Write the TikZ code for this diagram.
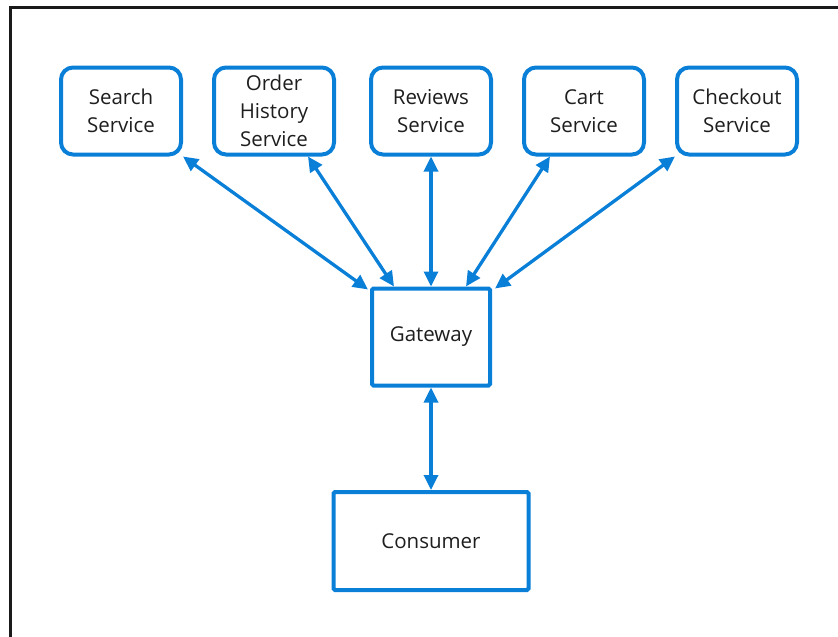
\documentclass[tikz,border=0pt]{standalone}
\usepackage{fontspec}
\setmainfont{Open Sans}
\usetikzlibrary{arrows.meta,calc}
\definecolor{azure}{HTML}{0A7FD8}
\definecolor{ink}{HTML}{1E1E1E}
\definecolor{frame}{HTML}{1A1A1A}
\begin{document}
\begin{tikzpicture}[x=1pt,y=-1pt,
  every node/.style={font=\fontsize{20.5}{28}\selectfont,text=ink,align=center,inner sep=0pt},
  svc/.style={draw=azure,line width=4pt,rounded corners=12pt,minimum width=120pt,minimum height=87pt},
  blk/.style={draw=azure,line width=4pt,rounded corners=1.5pt},
  link/.style={azure,line width=3.3pt,{Triangle[length=15pt,width=14pt]}-{Triangle[length=15pt,width=14pt]}}]
  \useasboundingbox (0,0) rectangle (838,637);
  \draw[frame,line width=3pt] (10,637) -- (10,7) -- (838,7);
  % services
  \node[svc] (search) at (121,111) {Search\\Service};
  \node[svc] (order) at (274,111) {Order\\History\\Service};
  \node[svc] (reviews) at (431,111) {Reviews\\Service};
  \node[svc] (cart) at (584,111) {Cart\\Service};
  \node[svc] (checkout) at (737,111) {Checkout\\Service};
  \node[blk,minimum width=118pt,minimum height=97pt] (gw) at (431,337) {Gateway};
  \node[blk,minimum width=195pt,minimum height=98pt] (consumer) at (431,541) {Consumer};
  % links
  \draw[link] (search.south east) -- ($(gw.north west)+(-2,3)$);
  \draw[link] ($(order.south east)+(-28,0)$) -- ($(gw.north)+(-37,0)$);
  \draw[link] (reviews.south) -- (gw.north);
  \draw[link] ($(cart.south west)+(28,0)$) -- ($(gw.north)+(35,0)$);
  \draw[link] (checkout.south west) -- ($(gw.north east)+(3,2)$);
  \draw[link] (gw.south) -- (consumer.north);
\end{tikzpicture}
\end{document}
